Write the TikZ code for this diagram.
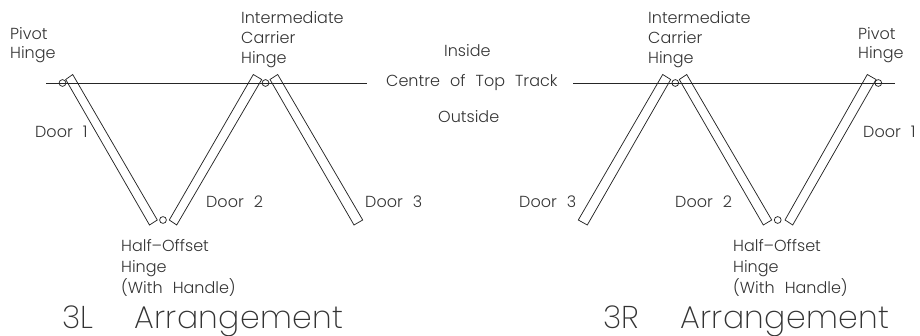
\documentclass[tikz,border=0pt]{standalone}
\usepackage{fontspec}
\setmainfont{Poppins Light}[WordSpace=2.3]
\newfontfamily\bigfont{Poppins ExtraLight}[WordSpace=4.4,LetterSpace=1.2]
\tikzset{
  door/.style={draw=black!85,line width=0.75pt,line join=miter},
  track/.style={draw=black!85,line width=0.8pt},
  hinge/.style={circle,draw=black!85,line width=0.75pt,inner sep=0pt,minimum size=6.8pt},
  lbl/.style={anchor=north west,inner sep=0pt,align=left,text=black!80,font=\fontsize{16pt}{20pt}\selectfont},
  ttl/.style={anchor=base west,inner sep=0pt,text=black!80,font=\bigfont\fontsize{31.5pt}{34pt}\selectfont}
}
\begin{document}
\begin{tikzpicture}[x=1pt,y=-1pt]
\useasboundingbox (0,0) rectangle (920,336);
\coordinate (t1) at (46,83.3);\coordinate (t2) at (367,83.3);
\coordinate (t3) at (573,83.3);\coordinate (t4) at (895,83.3);
\draw[track] (t1) -- (t2);
\draw[track] (t3) -- (t4);
% left
\draw[door] (65.7,79.5) -- (72.7,74.5) -- (157.3,220) -- (149.5,225) -- cycle;
\draw[door] (253.3,74.5) -- (261.7,79.5) -- (176.7,225) -- (169.3,220) -- cycle;
\draw[door] (270,79.5) -- (277.7,74.5) -- (362.7,220) -- (354,225) -- cycle;
\node[hinge] (h1) at (62.5,83) {};
\node[hinge] (h2) at (265.5,83) {};
\node[hinge] (h3) at (163,220) {};
% right
\draw[door] (662.7,74.5) -- (670.7,79.5) -- (587.3,225) -- (578.3,220) -- cycle;
\draw[door] (679.3,79.5) -- (686.7,74.5) -- (771.7,220) -- (763.3,225) -- cycle;
\draw[door] (867.3,74.5) -- (876,79.5) -- (792.7,225) -- (785,220) -- cycle;
\node[hinge] (h4) at (675.3,83) {};
\node[hinge] (h5) at (777.7,220) {};
\node[hinge] (h6) at (878.3,83) {};
% labels
\node[lbl] (a) at (10,27.5) {Pivot\\[-1pt]Hinge};
\node[lbl] (b) at (241,11.5) {Intermediate\\Carrier\\Hinge};
\node[lbl] (c) at (444,44) {Inside};
\node[lbl] (d) at (386,74) {Centre of Top Track};
\node[lbl] (e) at (438,110.5) {Outside};
\node[lbl] (f) at (35,126) {Door 1};
\node[lbl] (g) at (206,196) {Door 2};
\node[lbl] (h) at (365,196) {Door 3};
\node[lbl] (i) at (121,239) {Half--Offset\\[1pt]Hinge\\[1pt](With Handle)};
\node[lbl] (j) at (648,11.5) {Intermediate\\Carrier\\Hinge};
\node[lbl] (k) at (858,27.5) {Pivot\\[-1pt]Hinge};
\node[lbl] (l) at (863,126) {Door 1};
\node[lbl] (m) at (519,196) {Door 3};
\node[lbl] (n) at (675,196) {Door 2};
\node[lbl] (o) at (733,239) {Half--Offset\\[1pt]Hinge\\[1pt](With Handle)};
\node[ttl] (p) at (62,328) {3L Arrangement};
\node[ttl] (q) at (603,328) {3R Arrangement};
\end{tikzpicture}
\end{document}
